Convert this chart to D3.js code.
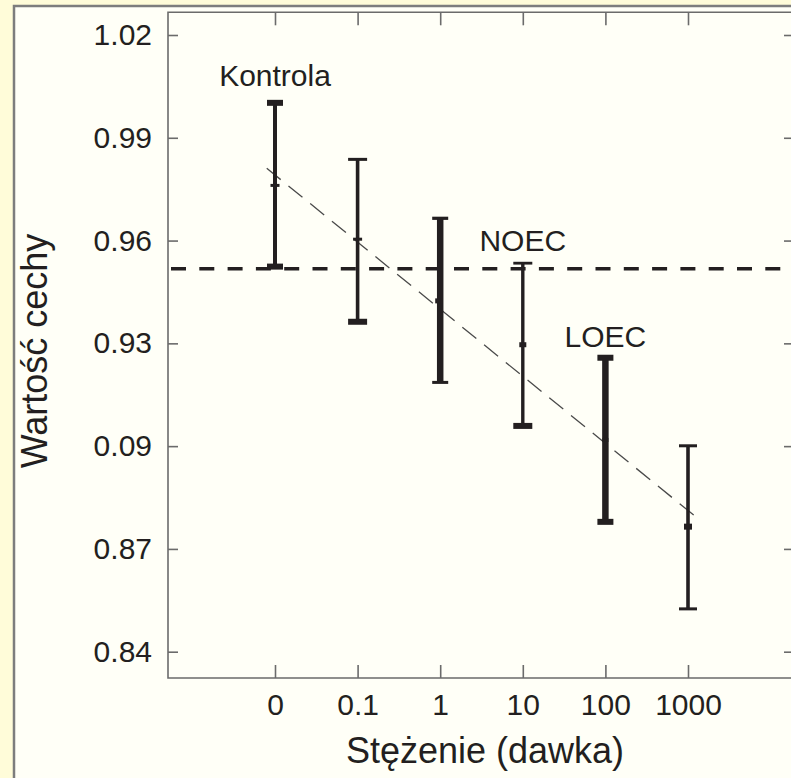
<!DOCTYPE html>
<html>
<head>
<meta charset="utf-8">
<script src="https://cdn.jsdelivr.net/npm/d3@7"></script>
<style>
  html, body { margin: 0; padding: 0; background: #fffcd9; }
  svg { display: block; }
  text { font-family: "Liberation Sans", Arial, Helvetica, sans-serif; fill: #231f20; }
</style>
</head>
<body>
<script>
// ---- data ----
const categories = ["0", "0.1", "1", "10", "100", "1000"];
const means      = [0.9761, 0.9604, 0.9424, 0.9296, 0.9018, 0.8765];
const upper      = [1.0002, 0.9837, 0.9665, 0.9534, 0.9258, 0.9001];
const lower      = [0.9524, 0.9363, 0.9186, 0.9059, 0.8779, 0.8525];
const yTickValues = [0.84, 0.87, 0.90, 0.93, 0.96, 0.99, 1.02];
const yTickLabels = ["0.84", "0.87", "0.09", "0.93", "0.96", "0.99", "1.02"];
const noecValue  = 0.9518;
const trendStart = { i: -0.1, v: 0.9811 };
const trendEnd   = { i: 5.16, v: 0.8781 };
const annotations = [
  { text: "Kontrola", cat: "0",   v: 1.0051 },
  { text: "NOEC",     cat: "10",  v: 0.9570 },
  { text: "LOEC",     cat: "100", v: 0.9290 }
];
const xTitle = "Stężenie (dawka)";
const yTitle = "Wartość cechy";

// ---- styles (per bar) ----
const barStyle = [
  { lw: 4,   topCap: 6, botCap: 6, capW: 16, mW: 9, mH: 3, mDx: 0 },
  { lw: 3.6, topCap: 3, botCap: 6, capW: 19, mW: 9, mH: 3, mDx: 0 },
  { lw: 6.5, topCap: 3.2, botCap: 3, capW: 16, mW: 5, mH: 5, mDx: -2.5 },
  { lw: 3.4, topCap: 2.8, botCap: 6, capW: 19, mW: 7, mH: 5, mDx: 0 },
  { lw: 6.5, topCap: 6, botCap: 6, capW: 16, mW: 6, mH: 4, mDx: 0 },
  { lw: 3.6, topCap: 3, botCap: 3, capW: 18, mW: 8, mH: 6, mDx: 0 }
];

const W = 791, H = 778;
const L = 168, T = 12.3, B = 678, R = 794;
const ink = "#231f20", axisCol = "#6b6b6b";

const svg = d3.select("body").append("svg").attr("width", W).attr("height", H);

// background + frame
svg.append("rect").attr("width", W).attr("height", H).attr("fill", "#fffcd9");
svg.append("rect").attr("x", 14).attr("y", 6).attr("width", W + 20).attr("height", H + 20)
  .attr("fill", "#fffff7").attr("stroke", "#7d7d7d").attr("stroke-width", 2.5);

const x = d3.scalePoint().domain(categories).range([275, 688]);
const xi = d3.scaleLinear().domain([0, categories.length - 1]).range([275, 688]);
const y = d3.scaleLinear().domain([0.84, 1.02]).range([651.7, 35]);

// frame lines of the plot
svg.append("path")
  .attr("d", `M${R},${T}H${L}V${B}H${R}`)
  .attr("fill", "none").attr("stroke", axisCol).attr("stroke-width", 1.6);

function styleAxis(g) {
  g.select(".domain").remove();
  g.selectAll(".tick line").attr("stroke", axisCol).attr("stroke-width", 1.6);
  g.selectAll(".tick text").attr("fill", ink).style("font-size", "30px")
    .style("font-family", '"Liberation Sans", Arial, Helvetica, sans-serif');
}

// left axis
svg.append("g").attr("transform", `translate(${L},0)`)
  .call(d3.axisLeft(y).tickValues(yTickValues).tickFormat((d, i) => yTickLabels[i])
    .tickSize(-10).tickPadding(16))
  .call(styleAxis);
// right axis ticks
svg.append("g").attr("transform", `translate(${R},0)`)
  .call(d3.axisRight(y).tickValues(yTickValues).tickFormat("").tickSize(-10))
  .call(styleAxis);
// bottom axis
svg.append("g").attr("transform", `translate(0,${B})`)
  .call(d3.axisBottom(x).tickSize(-13).tickPadding(15.7))
  .call(styleAxis);
// top axis ticks
svg.append("g").attr("transform", `translate(0,${T})`)
  .call(d3.axisTop(x).tickFormat("").tickSize(-13))
  .call(styleAxis);

// trend line
svg.append("line")
  .attr("x1", xi(trendStart.i)).attr("y1", y(trendStart.v))
  .attr("x2", xi(trendEnd.i)).attr("y2", y(trendEnd.v))
  .attr("stroke", "#4a4a4a").attr("stroke-width", 1.3).attr("stroke-dasharray", "18 10");

// NOEC line
svg.append("line")
  .attr("x1", 171).attr("x2", W + 5)
  .attr("y1", y(noecValue)).attr("y2", y(noecValue))
  .attr("stroke", ink).attr("stroke-width", 3.5).attr("stroke-dasharray", "15 13.3");

// error bars
const bars = svg.append("g");
categories.forEach((c, i) => {
  const s = barStyle[i];
  const cx = x(c);
  const g = bars.append("g");
  g.append("line").attr("x1", cx).attr("x2", cx)
    .attr("y1", y(upper[i])).attr("y2", y(lower[i]))
    .attr("stroke", ink).attr("stroke-width", s.lw);
  g.append("rect").attr("x", cx - s.capW / 2).attr("width", s.capW)
    .attr("y", y(upper[i]) - s.topCap / 2).attr("height", s.topCap).attr("fill", ink);
  g.append("rect").attr("x", cx - s.capW / 2).attr("width", s.capW)
    .attr("y", y(lower[i]) - s.botCap / 2).attr("height", s.botCap).attr("fill", ink);
  g.append("rect").attr("x", cx + s.mDx - s.mW / 2).attr("width", s.mW)
    .attr("y", y(means[i]) - s.mH / 2).attr("height", s.mH).attr("fill", ink);
});

// annotations
svg.selectAll("text.ann").data(annotations).enter().append("text")
  .attr("class", "ann")
  .attr("x", d => x(d.cat)).attr("y", d => y(d.v))
  .attr("text-anchor", "middle").style("font-size", "30px")
  .text(d => d.text);

// axis titles
svg.append("text").attr("x", 485).attr("y", 763)
  .attr("text-anchor", "middle").style("font-size", "36px").text(xTitle);
svg.append("text").attr("transform", "translate(47,351) rotate(-90)")
  .attr("text-anchor", "middle").style("font-size", "36px").text(yTitle);
</script>
</body>
</html>
